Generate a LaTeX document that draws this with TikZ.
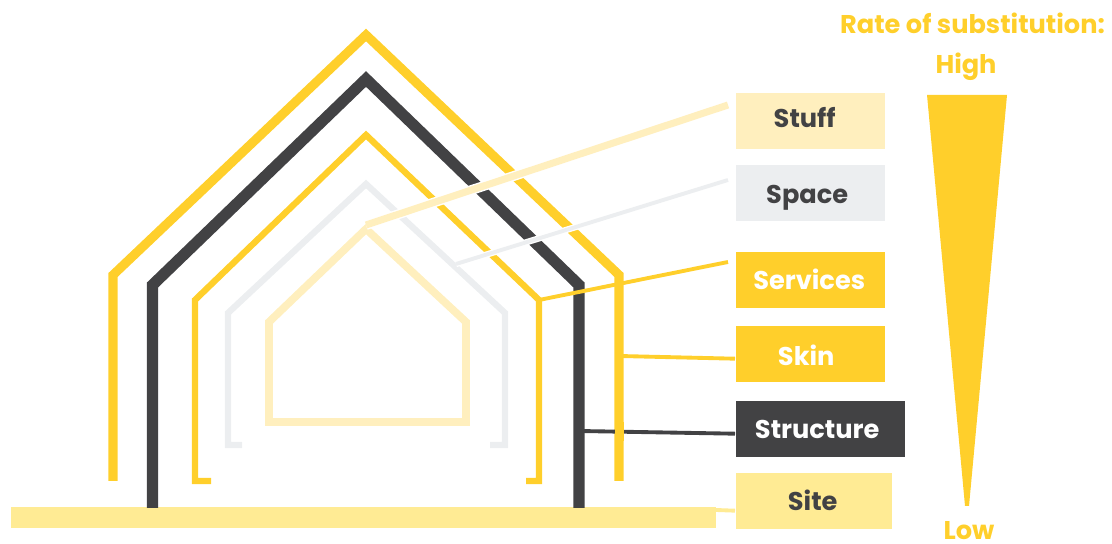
\documentclass[tikz,border=0pt]{standalone}
\usepackage{fontspec}
\setmainfont{Poppins}
\usepackage{tikz}
\usetikzlibrary{calc}
\definecolor{sun}{RGB}{255,207,43}
\definecolor{coal}{RGB}{66,66,68}
\definecolor{cream}{RGB}{255,239,190}
\definecolor{mist}{RGB}{236,238,240}
\definecolor{sand}{RGB}{255,235,148}
\newcommand{\labelfont}{\bfseries\fontsize{7.3}{9}\selectfont}
\newcommand{\ratefont}{\bfseries\fontsize{7.3}{9}\selectfont}
\newcommand{\nudged}[3]{\raisebox{#2cm}[0pt][0pt]{#3}\kern#1cm}
\tikzset{
  layerbox/.style={minimum width=1.49cm,minimum height=0.56cm,inner sep=0pt,anchor=north west,font=\labelfont},
  halo/.style={white,line width=#1},
  rate/.style={text=sun,font=\ratefont,inner sep=0pt}
}
\begin{document}
\begin{tikzpicture}[x=1cm,y=1cm]
    \useasboundingbox (0,0) rectangle (11.12,5.44);
    % site
    \fill[sand] (0.11,0.16) rectangle (7.16,0.37);
    % skin, structure, services, space, stuff
    \draw[sun,line width=2.6pt,miter limit=10] (1.13,0.63)--(1.13,2.69)--(3.66,5.09)--(6.19,2.69)--(6.19,0.63);
    \draw[coal,line width=3.2pt] (1.525,0.36)--(1.525,2.59)--(3.66,4.65)--(5.79,2.59)--(5.79,0.36);
    \draw[sun,line width=1.8pt] (2.11,0.63)--(1.95,0.63)--(1.95,2.44)--(3.66,4.09)--(5.39,2.44)--(5.39,0.63)--(5.26,0.63);
    \draw[mist,line width=1.8pt] (2.42,0.99)--(2.28,0.99)--(2.28,2.31)--(3.66,3.60)--(5.05,2.31)--(5.05,0.99)--(4.90,0.99);
    \draw[cream,line width=2.2pt] (2.69,1.22)--(2.69,2.22)--(3.66,3.15)--(4.66,2.22)--(4.66,1.22)--cycle;
    % boxes
    \node[layerbox,fill=cream,text=coal] (stuff) at (7.35,4.52){\nudged{0.11}{-0.07}{Stuff}};
    \node[layerbox,fill=mist,text=coal] (space) at (7.35,3.80){\nudged{0.06}{-0.11}{Space}};
    \node[layerbox,fill=sun,text=white] (services) at (7.35,2.93){\nudged{0.02}{-0.10}{Services}};
    \node[layerbox,fill=sun,text=white] (skin) at (7.35,2.19){\nudged{0.08}{-0.12}{Skin}};
    \node[layerbox,fill=coal,text=white,minimum width=1.69cm] (structure) at (7.35,1.44){\nudged{0.06}{-0.10}{Structure}};
    \node[layerbox,fill=sand,text=coal,minimum width=1.56cm] (site) at (7.35,0.72){\nudged{0.02}{-0.10}{Site}};
    % connector ends
    \coordinate (stuffroof) at (3.66,3.19);
    \coordinate (stuffend) at (7.28,4.39);
    \coordinate (spaceroof) at (4.56,2.80);
    \coordinate (spaceend) at (7.28,3.64);
    \coordinate (servicesroof) at (5.39,2.44);
    \coordinate (servicesend) at (7.28,2.82);
    \coordinate (skinwall) at (6.19,1.88);
    \coordinate (structurewall) at (5.79,1.13);
    \coordinate (sitefloor) at (7.16,0.34);
    % connectors
    \draw[halo=2.8pt] (stuffroof)--(stuffend);
    \draw[cream,line width=2pt] (stuffroof)--(stuffend);
    \draw[halo=1.8pt] (spaceroof)--(spaceend);
    \draw[mist,line width=1.1pt] (spaceroof)--(spaceend);
    \draw[sun,line width=1.1pt] (servicesroof)--(servicesend);
    \draw[sun,line width=1.1pt] (skinwall)--($(skin.west)+(0,-0.05)$);
    \draw[coal,line width=1.1pt] (structurewall)--($(structure.west)+(0,-0.05)$);
    \fill[sun] (6.145,1.03) rectangle (6.235,1.22);
    \draw[sand,line width=1.1pt] (sitefloor)--($(site.west)+(0,-0.10)$);
    % rate of substitution
    \node[rate] (ratetitle) at (9.725,5.21){Rate of substitution:};
    \node[rate] (ratehigh) at (9.66,4.77){High};
    \node[rate] (ratelow) at (9.69,0.13){Low};
    \fill[sun] (9.27,4.49)--(10.07,4.49)--(9.69,0.38)--(9.65,0.38)--cycle;
  \end{tikzpicture}
\end{document}
